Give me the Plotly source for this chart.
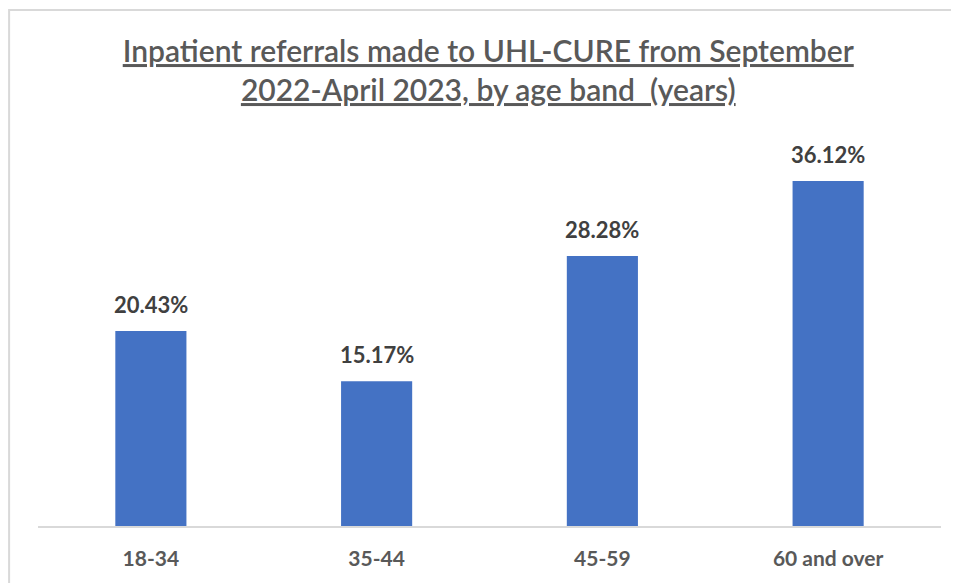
import plotly.graph_objects as go

age_bands = ["18-34", "35-44", "45-59", "60 and over"]
referral_pct = [20.43, 15.17, 28.28, 36.12]

BAR_BLUE = "#4472C4"
TEXT_GREY = "#595959"
LABEL_GREY = "#404040"
FONT = "Lato, 'Open Sans', sans-serif"

fig = go.Figure(
    go.Bar(
        x=age_bands,
        y=referral_pct,
        width=0.315,
        marker=dict(color=BAR_BLUE, line=dict(width=0)),
        hovertemplate="<b>%{x}</b><br>%{y:.2f}%<extra></extra>",
    )
)

# value labels sit a little higher above the bars than plotly's outside text
for band, pct in zip(age_bands, referral_pct):
    fig.add_annotation(
        x=band, y=pct, text=f"<b>{pct:.2f}%</b>", showarrow=False,
        yanchor="bottom", yshift=11,
        font=dict(family=FONT, size=22, color=LABEL_GREY),
    )

# page body has an 8px margin, so the figure is a little smaller than the window
fig.update_layout(
    title=dict(
        text="<u>Inpatient referrals made to UHL-CURE from September</u><br>"
             "<u>2022-April 2023, by age band  (years)</u>",
        font=dict(family=FONT, size=30, color=TEXT_GREY, weight=600),
        x=0.505, xanchor="center", y=0.906, yanchor="top",
    ),
    font=dict(family=FONT, size=18, color=TEXT_GREY),
    plot_bgcolor="white",
    paper_bgcolor="white",
    showlegend=False,
    width=951,
    height=575,
    margin=dict(t=136, l=30, r=18, b=57),
    shapes=[
        dict(type="rect", xref="paper", yref="paper",
             x0=-0.032, x1=1.0177, y0=-0.3, y1=1.3508,
             line=dict(color="#D9D9D9", width=2), fillcolor="rgba(0,0,0,0)",
             layer="below"),
    ],
)

fig.update_xaxes(
    showline=True, linecolor="#D9D9D9", linewidth=1.5,
    ticks="", showgrid=False, ticklabelstandoff=13,
    tickfont=dict(family=FONT, size=21, color=TEXT_GREY, weight="bold"),
)
fig.update_yaxes(range=[0, 40], visible=False, showgrid=False)

fig.write_html("out.html")
